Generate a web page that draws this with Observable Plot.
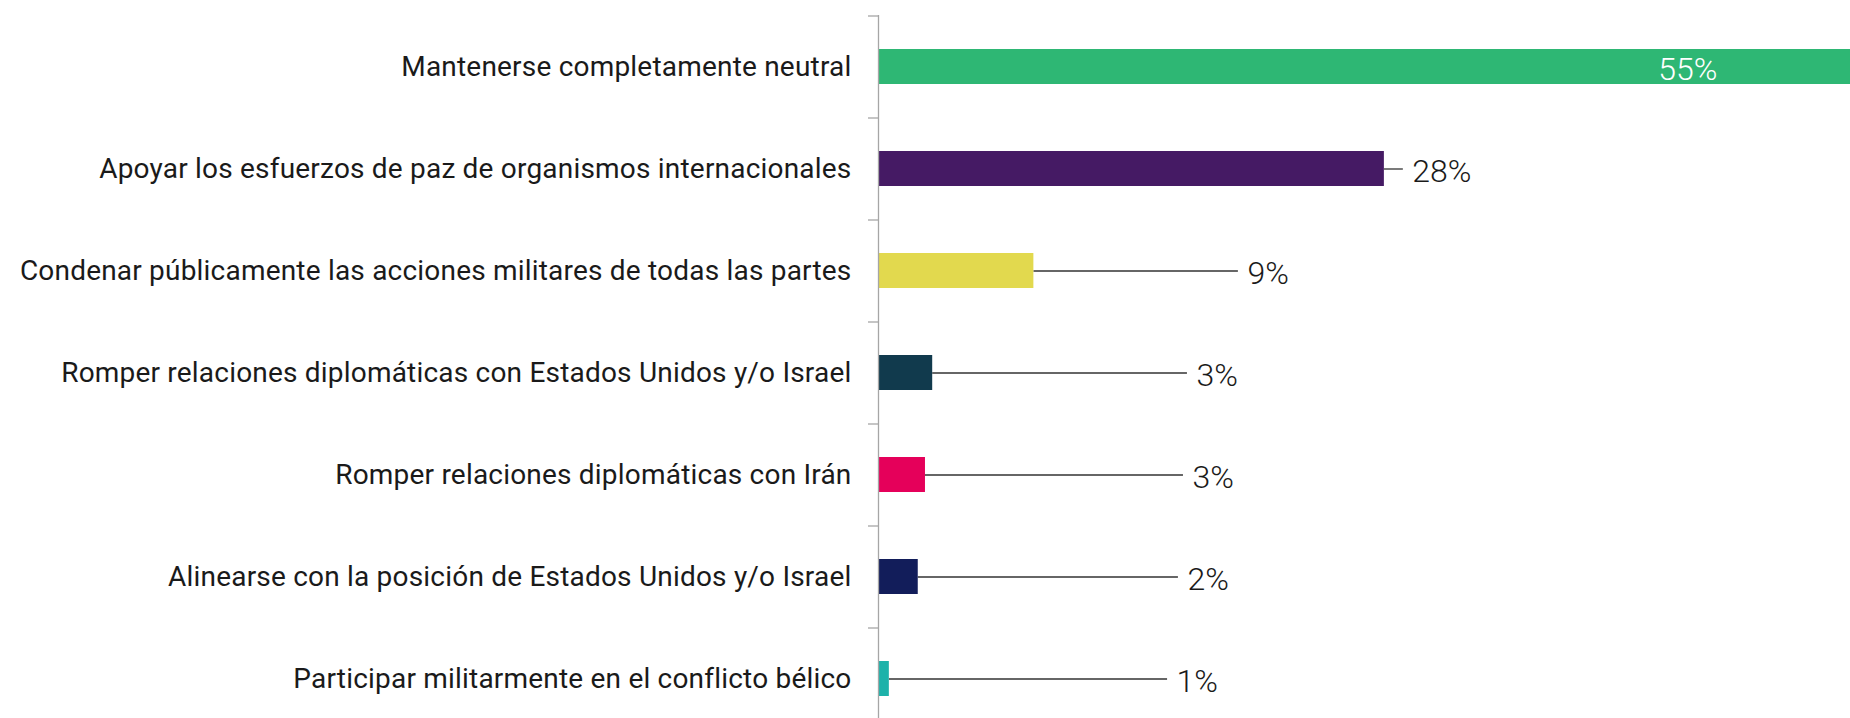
<!DOCTYPE html>
<html>
<head>
<meta charset="utf-8">
<script src="https://cdn.jsdelivr.net/npm/d3@7"></script>
<script src="https://cdn.jsdelivr.net/npm/@observablehq/plot@0.6"></script>
<style>
  html, body { margin: 0; padding: 0; background: #fff; overflow: hidden; }
  #chart svg { display: block; }
  #chart g[aria-label="y-axis tick label"] text { letter-spacing: 0.2px; }
</style>
</head>
<body>
<div id="chart"></div>
<script>
const categories = [
  "Mantenerse completamente neutral",
  "Apoyar los esfuerzos de paz de organismos internacionales",
  "Condenar públicamente las acciones militares de todas las partes",
  "Romper relaciones diplomáticas con Estados Unidos y/o Israel",
  "Romper relaciones diplomáticas con Irán",
  "Alinearse con la posición de Estados Unidos y/o Israel",
  "Participar militarmente en el conflicto bélico"
];
const values = [55.0, 28.0, 8.6, 3.0, 2.6, 2.2, 0.6];
const valueLabels = ["55%", "28%", "9%", "3%", "3%", "2%", "1%"];
const colors = ["#2EB774", "#451A64", "#E2D94E", "#113A4D", "#E5005A", "#121D5A", "#1DB2AA"];
// where each leader line ends / the label is set (in % units)
const labelAt = [44.8, 29.05, 19.92, 17.1, 16.88, 16.6, 16.0];

const data = categories.map((c, i) => ({
  category: c, value: values[i], label: valueLabels[i], color: colors[i], at: labelAt[i]
}));
const inside = data.slice(0, 1);
const outside = data.slice(1);

const FONT = "Roboto, 'Open Sans', sans-serif";

const chart = Plot.plot({
  width: 1850,
  height: 718,
  marginLeft: 878,
  marginRight: 0,
  marginTop: 15,
  marginBottom: 0,
  style: { fontFamily: FONT, background: "#fff", overflow: "hidden" },
  x: { domain: [0, 53.8], axis: null },
  y: { domain: categories, range: [15, 729], paddingInner: 0.657, paddingOuter: 0.3285, label: null },
  marks: [
    Plot.ruleY(outside, { y: "category", x1: "value", x2: "at", stroke: "#333", strokeWidth: 1.3 }),
    Plot.barX(data, { y: "category", x: "value", fill: "color", clip: true }),
    Plot.ruleX([0], { stroke: "#A6A6A6", strokeWidth: 1.3 }),
    Plot.axisY({ tickSize: 10, dy: -51, tickFormat: () => "", stroke: "#A6A6A6", strokeWidth: 1.3 }),
    Plot.axisY({ tickSize: 0, tickPadding: 27, fontSize: 28, fill: "#1a1a1a", fontFamily: FONT }),
    Plot.text(outside, { y: "category", x: "at", text: "label", textAnchor: "start", dx: 9, dy: 3, fontSize: 32, fontWeight: 300, fill: "#1a1a1a", fontFamily: FONT }),
    Plot.text(inside, { y: "category", x: "at", text: "label", textAnchor: "middle", dy: 3, fontSize: 32, fontWeight: 300, fill: "#ffffff", fontFamily: FONT })
  ]
});
document.getElementById("chart").appendChild(chart);
</script>
</body>
</html>
